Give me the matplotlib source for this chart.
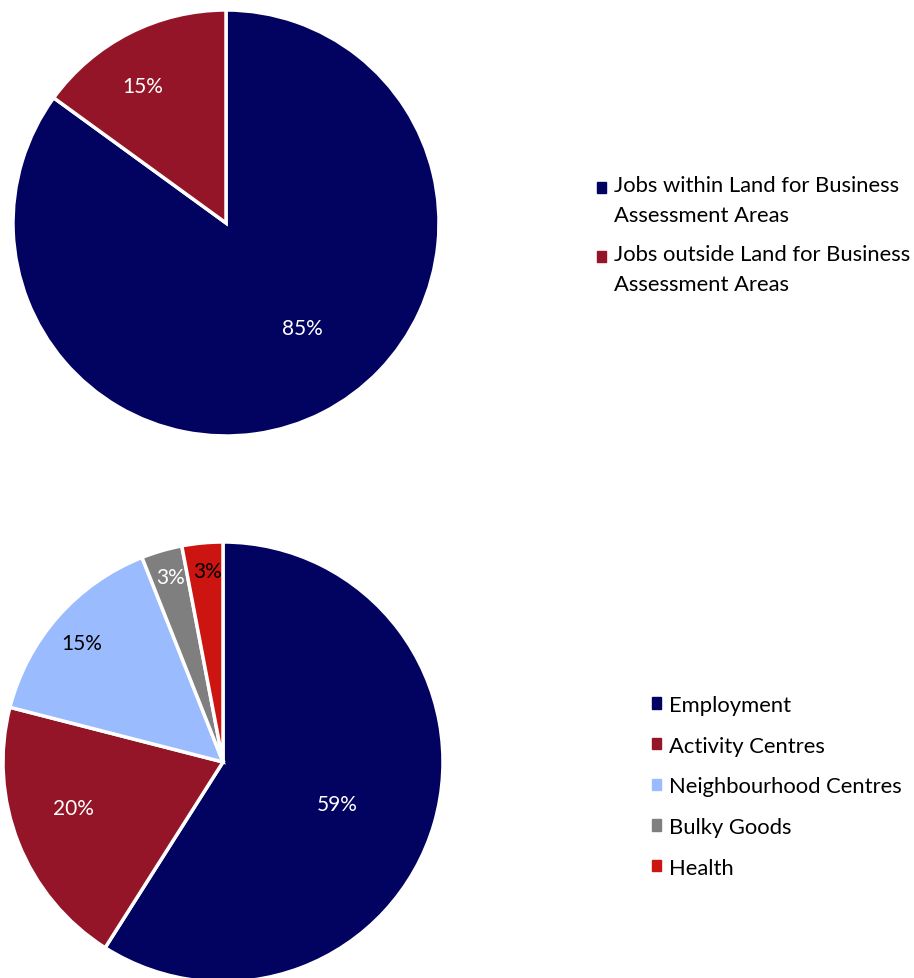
import matplotlib.pyplot as plt
from matplotlib.patches import Patch, Rectangle
from matplotlib.legend_handler import HandlerPatch

plt.rcParams['font.family'] = ['Lato', 'DejaVu Sans']

# top pie
jobs_labels = ['Jobs within Land for Business\nAssessment Areas',
               'Jobs outside Land for Business\nAssessment Areas']
jobs_values = [85, 15]
jobs_colors = ['#020260', '#951528']
jobs_text_colors = ['white', 'white']

# bottom pie
area_labels = ['Employment', 'Activity Centres', 'Neighbourhood Centres',
               'Bulky Goods', 'Health']
area_values = [59, 20, 15, 3, 3]
area_colors = ['#020260', '#951528', '#9bbbff', '#7f7f7f', '#cc1510']
area_text_colors = ['white', 'white', 'black', 'white', 'black']

# where the % labels sit (in units of the radius, from the centre)
jobs_label_pos = [(0.36, -0.495), (-0.39, 0.645)]
area_label_pos = [(0.52, -0.19), (-0.68, -0.21), (-0.64, 0.54),
                  (-0.24, 0.84), (-0.07, 0.87)]

W, H = 914, 979
fig = plt.figure(figsize=(W / 100, H / 100), dpi=100)


def draw_pie(cx, cy, r, values, colors, text_colors, label_pos):
    ax = fig.add_axes([(cx - r) / W, (H - cy - r) / H, 2 * r / W, 2 * r / H])
    wedges, _ = ax.pie(values, colors=colors, startangle=90, counterclock=False,
                       radius=1, wedgeprops=dict(edgecolor='white', linewidth=2.5))
    for w in wedges:
        w.set_clip_on(False)
    for v, c, (x, y) in zip(values, text_colors, label_pos):
        ax.text(x, y, f'{v}%', color=c, ha='center', va='center', fontsize=15)
    ax.set_xlim(-1, 1)
    ax.set_ylim(-1, 1)
    ax.axis('off')


draw_pie(226, 224, 213, jobs_values, jobs_colors, jobs_text_colors, jobs_label_pos)
draw_pie(223, 763, 220, area_values, area_colors, area_text_colors, area_label_pos)


# marker next to the first line of a two-line label
def top_line_square(legend, orig_handle, xdescent, ydescent, width, height, fontsize):
    return Rectangle((-xdescent, -ydescent + 0.57 * fontsize), width, height)


top_handles = [Patch(color=c) for c in jobs_colors]
leg = fig.legend(top_handles, jobs_labels, loc='upper left',
                 bbox_to_anchor=(597 / W, 1 - 176 / H), frameon=False,
                 fontsize=15.8, handlelength=0.42, handleheight=0.42,
                 handletextpad=0.37, labelspacing=0.89, borderpad=0,
                 borderaxespad=0,
                 handler_map={Patch: HandlerPatch(patch_func=top_line_square)})
for t in leg.get_texts():
    t.set_linespacing(1.6)

bottom_handles = [Patch(color=c) for c in area_colors]
fig.legend(bottom_handles, area_labels, loc='upper left',
           bbox_to_anchor=(652 / W, 1 - 696 / H), frameon=False,
           fontsize=15.8, handlelength=0.42, handleheight=0.42,
           handletextpad=0.37, labelspacing=0.94, borderpad=0,
           borderaxespad=0)

fig.savefig('out.png', dpi=100)
